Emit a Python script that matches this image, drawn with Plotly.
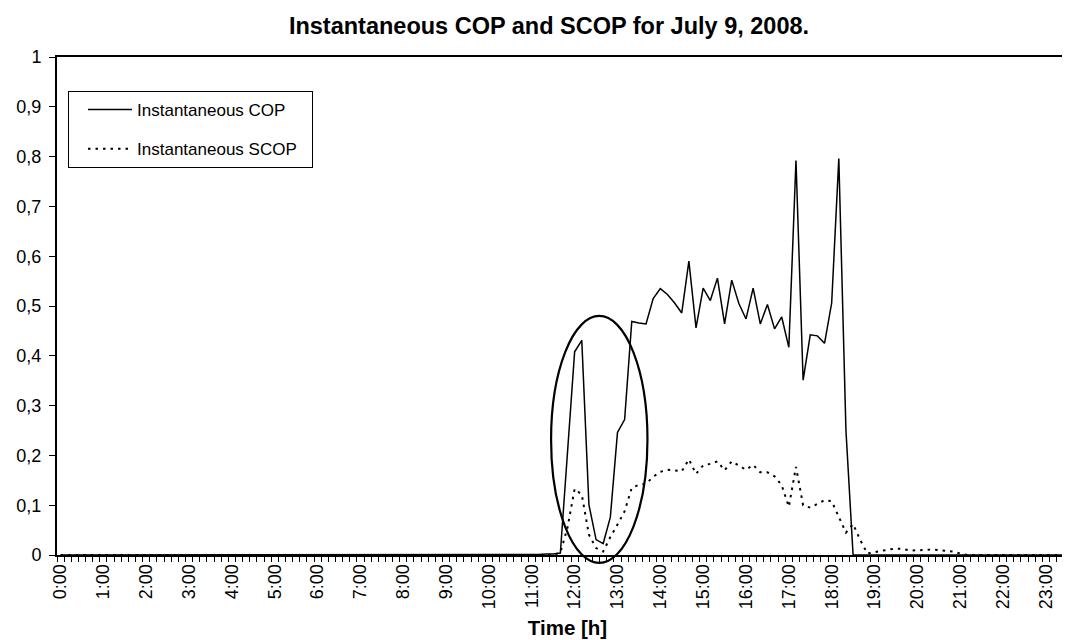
import plotly.graph_objects as go

# ---------------- data ----------------
TIMES = [
    "0:00", "0:10", "0:20", "0:30", "0:40", "0:50",
    "1:00", "1:10", "1:20", "1:30", "1:40", "1:50",
    "2:00", "2:10", "2:20", "2:30", "2:40", "2:50",
    "3:00", "3:10", "3:20", "3:30", "3:40", "3:50",
    "4:00", "4:10", "4:20", "4:30", "4:40", "4:50",
    "5:00", "5:10", "5:20", "5:30", "5:40", "5:50",
    "6:00", "6:10", "6:20", "6:30", "6:40", "6:50",
    "7:00", "7:10", "7:20", "7:30", "7:40", "7:50",
    "8:00", "8:10", "8:20", "8:30", "8:40", "8:50",
    "9:00", "9:10", "9:20", "9:30", "9:40", "9:50",
    "10:00", "10:10", "10:20", "10:30", "10:40", "10:50",
    "11:00", "11:10", "11:20", "11:30", "11:40", "11:50",
    "12:00", "12:10", "12:20", "12:30", "12:40", "12:50",
    "13:00", "13:10", "13:20", "13:30", "13:40", "13:50",
    "14:00", "14:10", "14:20", "14:30", "14:40", "14:50",
    "15:00", "15:10", "15:20", "15:30", "15:40", "15:50",
    "16:00", "16:10", "16:20", "16:30", "16:40", "16:50",
    "17:00", "17:10", "17:20", "17:30", "17:40", "17:50",
    "18:00", "18:10", "18:20", "18:30", "18:40", "18:50",
    "19:00", "19:10", "19:20", "19:30", "19:40", "19:50",
    "20:00", "20:10", "20:20", "20:30", "20:40", "20:50",
    "21:00", "21:10", "21:20", "21:30", "21:40", "21:50",
    "22:00", "22:10", "22:20", "22:30", "22:40", "22:50",
    "23:00", "23:10", "23:20", "23:30", "23:40", "23:50",
]

HOUR_LABELS = [
    "0:00", "1:00", "2:00", "3:00", "4:00", "5:00", "6:00", "7:00",
    "8:00", "9:00", "10:00", "11:00", "12:00", "13:00", "14:00", "15:00",
    "16:00", "17:00", "18:00", "19:00", "20:00", "21:00", "22:00", "23:00",
]

COP = [
    0, 0, 0, 0, 0, 0, 0, 0, 0, 0, 0, 0,
    0, 0, 0, 0, 0, 0, 0, 0, 0, 0, 0, 0,
    0, 0, 0, 0, 0, 0, 0, 0, 0, 0, 0, 0,
    0, 0, 0, 0, 0, 0, 0, 0, 0, 0, 0, 0,
    0, 0, 0, 0, 0, 0, 0, 0, 0, 0, 0, 0,
    0, 0, 0, 0, 0, 0, 0.001, 0.001, 0.002, 0.002, 0.004, 0.205,
    0.408, 0.431, 0.101, 0.031, 0.023, 0.076, 0.246, 0.272, 0.469, 0.466, 0.464, 0.515,
    0.535, 0.523, 0.506, 0.486, 0.590, 0.456, 0.536, 0.511, 0.556, 0.464, 0.552, 0.505,
    0.474, 0.536, 0.464, 0.503, 0.454, 0.478, 0.417, 0.792, 0.351, 0.442, 0.440, 0.425,
    0.506, 0.796, 0.250, 0, 0, 0, 0, 0, 0, 0, 0, 0,
    0, 0, 0, 0, 0, 0, 0, 0, 0, 0, 0, 0,
    0, 0, 0, 0, 0, 0, 0, 0, 0, 0, 0, 0,
]

SCOP = [
    0, 0, 0, 0, 0, 0, 0, 0, 0, 0, 0, 0,
    0, 0, 0, 0, 0, 0, 0, 0, 0, 0, 0, 0,
    0, 0, 0, 0, 0, 0, 0, 0, 0, 0, 0, 0,
    0, 0, 0, 0, 0, 0, 0, 0, 0, 0, 0, 0,
    0, 0, 0, 0, 0, 0, 0, 0, 0, 0, 0, 0,
    0, 0, 0, 0, 0, 0, 0, 0, 0, 0, 0.005, 0.055,
    0.133, 0.121, 0.041, 0.014, 0.007, 0.036, 0.061, 0.088, 0.135, 0.141, 0.143, 0.157,
    0.167, 0.171, 0.170, 0.168, 0.192, 0.163, 0.180, 0.183, 0.188, 0.170, 0.188, 0.180,
    0.171, 0.181, 0.166, 0.166, 0.158, 0.140, 0.097, 0.177, 0.100, 0.095, 0.103, 0.110,
    0.108, 0.075, 0.045, 0.062, 0.030, 0.003, 0.006, 0.008, 0.011, 0.013, 0.012, 0.009,
    0.009, 0.010, 0.011, 0.010, 0.009, 0.007, 0.003, 0, 0, 0, 0, 0,
    0, 0, 0, 0, 0, 0, 0, 0, 0, 0, 0, 0,
]

Y_TICKS = [0, 0.1, 0.2, 0.3, 0.4, 0.5, 0.6, 0.7, 0.8, 0.9, 1]
Y_TICK_LABELS = ["0", "0,1", "0,2", "0,3", "0,4", "0,5", "0,6", "0,7", "0,8", "0,9", "1"]

# highlighted region (ellipse) in category index / value units
ELLIPSE_X = [68.7, 82.2]
ELLIPSE_Y = [-0.016, 0.48]

FONT = "Arial, Liberation Sans, sans-serif"
PAD = "\u00a0\u00a0"

# ---------------- figure ----------------
fig = go.Figure()
fig.add_trace(go.Scatter(
    x=TIMES, y=COP, mode="lines", name="Instantaneous COP" + PAD,
    legendgroup="a",
    line=dict(color="black", width=1.5),
))
fig.add_trace(go.Scatter(
    x=TIMES, y=SCOP, mode="lines", name="Instantaneous SCOP" + PAD,
    legendgroup="b",
    line=dict(color="black", width=2, dash="2.5px,5px"),
))

ticktext = [t if t in HOUR_LABELS else "" for t in TIMES]

fig.update_xaxes(
    type="category",
    categoryorder="array", categoryarray=TIMES,
    range=[-0.5, 142.5],
    tickmode="array", tickvals=TIMES, ticktext=ticktext,
    tickson="boundaries",
    ticks="outside", ticklen=5, tickwidth=1, tickcolor="black",
    tickangle=-90,
    tickfont=dict(family=FONT, size=18, color="black"),
    showline=True, linecolor="black", linewidth=2, mirror=True,
    showgrid=False, zeroline=False,
    title=dict(text="Time [h]", font=dict(family=FONT, size=20.5, color="black", weight="bold"),
               standoff=12),
)
fig.update_yaxes(
    range=[0, 1],
    tickmode="array", tickvals=Y_TICKS, ticktext=Y_TICK_LABELS,
    ticks="outside", ticklen=6, tickwidth=1, tickcolor="black",
    tickfont=dict(family=FONT, size=18, color="black"),
    ticklabelstandoff=4,
    showline=True, linecolor="black", linewidth=2,
    showgrid=False, zeroline=False,
)

fig.add_shape(
    type="circle", xref="x", yref="paper",
    x0=ELLIPSE_X[0], x1=ELLIPSE_X[1], y0=ELLIPSE_Y[0], y1=ELLIPSE_Y[1],
    line=dict(color="black", width=2.2), fillcolor="rgba(0,0,0,0)",
)

fig.update_layout(
    width=1070, height=640,
    margin=dict(l=49, r=0, t=49, b=93),
    paper_bgcolor="white", plot_bgcolor="white",
    title=dict(
        text="Instantaneous COP and SCOP for July 9, 2008.",
        x=0.5056, xref="container", xanchor="center",
        y=0.972, yref="container", yanchor="middle",
        font=dict(family=FONT, size=23.5, color="black", weight="bold"),
    ),
    legend=dict(
        x=0.0108, y=0.9317, xanchor="left", yanchor="top",
        bordercolor="black", borderwidth=1, bgcolor="white",
        font=dict(family=FONT, size=17, color="black"),
        tracegroupgap=14, itemwidth=44, indentation=14,
    ),
    showlegend=True,
)

fig.write_html("out.html")
